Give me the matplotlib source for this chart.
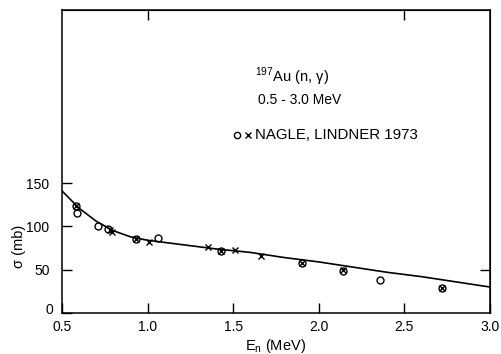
import matplotlib
matplotlib.use("Agg")
import matplotlib.pyplot as plt
import matplotlib.transforms as mtrans
import numpy as np

plt.rcParams['font.family'] = ['Liberation Sans', 'DejaVu Sans']

# Evaluated curve
curve_E = [0.5, 0.6, 0.7, 0.8, 0.9, 1.0, 1.2, 1.4, 1.6, 1.8, 2.0, 2.2, 2.4, 2.6, 2.8, 3.0]
curve_sigma = [141, 121, 106, 95, 88, 84, 79, 74, 70, 64, 59, 53, 47, 42, 36, 30]

# Nagle, Lindner 1973 - circles
circ_E = [0.58, 0.59, 0.71, 0.77, 0.93, 1.06, 1.43, 1.90, 2.14, 2.36, 2.72]
circ_sigma = [124, 116, 101, 97, 86, 87, 72, 58, 49, 38, 29]

# Nagle, Lindner 1973 - crosses
x_E = [0.58, 0.78, 0.79, 0.93, 1.01, 1.35, 1.43, 1.51, 1.66, 1.90, 2.14, 2.72]
x_sigma = [124, 96, 93, 86, 82, 76, 72, 73, 66, 58, 50, 29]

xticks = [0.5, 1.0, 1.5, 2.0, 2.5, 3.0]
xticklabels = ["0.5", "1.0", "1.5", "2.0", "2.5", "3.0"]
yticks = [0, 50, 100, 150]
yticklabels = ["0", "50", "100", "150"]

fig = plt.figure(figsize=(5.01, 3.54), dpi=100)
ax = fig.add_axes([0.1238, 0.1158, 0.978 - 0.1238, 0.9718 - 0.1158])

ax.plot(curve_E, curve_sigma, color='black', lw=1.2)
ax.plot(circ_E, circ_sigma, linestyle='none', marker='o', mfc='none', mec='black', ms=5, mew=1.0)
ax.plot(x_E, x_sigma, linestyle='none', marker='x', color='black', ms=4.5, mew=1.0)

ax.set_xlim(0.5, 3.0)
ax.set_ylim(0, 350)
ax.set_xticks(xticks)
ax.set_xticklabels(xticklabels, fontsize=10)
ax.set_yticks(yticks)
ax.set_yticklabels(yticklabels, fontsize=10)
ax.tick_params(axis='both', direction='in', length=7, width=1)
ax.tick_params(axis='x', pad=5)
ax.tick_params(axis='y', pad=9)
for s in ax.spines.values():
    s.set_linewidth(1.1)

# nudge the "0" label up so it clears "0.5"
lbl0 = ax.get_yticklabels()[0]
lbl0.set_transform(lbl0.get_transform() + mtrans.ScaledTranslation(3 / 72, 3 / 72, fig.dpi_scale_trans))

top = ax.secondary_xaxis('top')
top.set_xticks([1.0, 2.5])
top.set_xticklabels([])
top.tick_params(direction='in', length=7, width=1)
right = ax.secondary_yaxis('right')
right.set_yticks([50])
right.set_yticklabels([])
right.tick_params(direction='in', length=7, width=1)

ax.set_xlabel(r"E$_\mathregular{n}$ (MeV)", fontsize=10.5, labelpad=2)
ax.set_ylabel("σ (mb)", fontsize=10.5)
ax.yaxis.set_label_coords(-0.085, 0.22)

ax.text(1.625, 273, r"$^{\mathregular{197}}$Au (n, γ)", fontsize=10.5, ha='left', va='center')
ax.text(1.645, 246, "0.5 - 3.0 MeV", fontsize=10, ha='left', va='center')
ax.plot([1.525], [206], linestyle='none', marker='o', mfc='none', mec='black', ms=4.5, mew=1.0)
ax.plot([1.585], [206], linestyle='none', marker='x', color='black', ms=4, mew=1.0)
ax.text(1.63, 206, "NAGLE, LINDNER 1973", fontsize=10.8, ha='left', va='center')

fig.savefig("out.png", dpi=100)
